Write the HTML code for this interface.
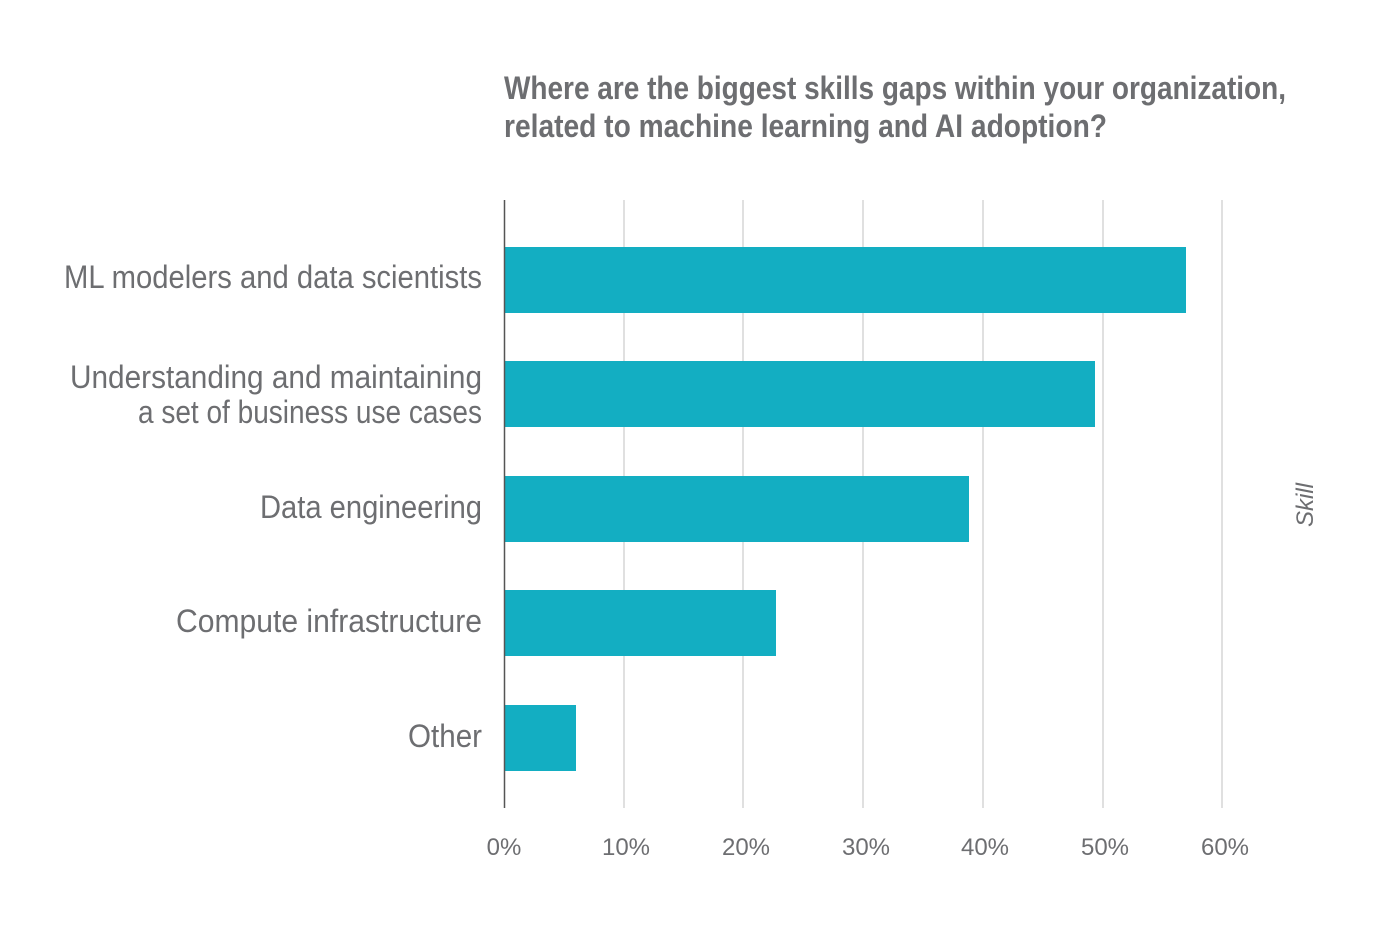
<!DOCTYPE html>
<html><head><meta charset="utf-8"><style>
html,body{margin:0;padding:0;background:#fff;}
svg{display:block;}
text{font-family:"Liberation Sans Narrow","Liberation Sans",sans-serif;}
</style></head><body>
<svg width="1400" height="950" viewBox="0 0 1400 950" xmlns="http://www.w3.org/2000/svg">
<rect width="1400" height="950" fill="#fff"/>
<g fill="#6d6e71" font-size="32" font-weight="bold">
<text x="504" y="99" textLength="782" lengthAdjust="spacingAndGlyphs">Where are the biggest skills gaps within your organization,</text>
<text x="504" y="137" textLength="603" lengthAdjust="spacingAndGlyphs">related to machine learning and AI adoption?</text>
</g>
<g stroke="#d6d6d6" stroke-width="1.5">
<line x1="624" y1="200" x2="624" y2="808"/>
<line x1="743" y1="200" x2="743" y2="808"/>
<line x1="863" y1="200" x2="863" y2="808"/>
<line x1="983" y1="200" x2="983" y2="808"/>
<line x1="1103" y1="200" x2="1103" y2="808"/>
<line x1="1222" y1="200" x2="1222" y2="808"/>
</g>
<g fill="#13aec2">
<rect x="504" y="247" width="682" height="66"/>
<rect x="504" y="361" width="591" height="66"/>
<rect x="504" y="476" width="465" height="66"/>
<rect x="504" y="590" width="272" height="66"/>
<rect x="504" y="705" width="72" height="66"/>
</g>
<line x1="504.5" y1="200" x2="504.5" y2="808" stroke="#555" stroke-width="1.5"/>
<g fill="#6d6e71" font-size="32" text-anchor="end">
<text x="482" y="288" textLength="418" lengthAdjust="spacingAndGlyphs">ML modelers and data scientists</text>
<text x="482" y="388" textLength="412" lengthAdjust="spacingAndGlyphs">Understanding and maintaining</text>
<text x="482" y="423" textLength="344" lengthAdjust="spacingAndGlyphs">a set of business use cases</text>
<text x="482" y="518" textLength="222" lengthAdjust="spacingAndGlyphs">Data engineering</text>
<text x="482" y="632" textLength="306" lengthAdjust="spacingAndGlyphs">Compute infrastructure</text>
<text x="482" y="747" textLength="74" lengthAdjust="spacingAndGlyphs">Other</text>
</g>
<g fill="#6d6e71" font-size="24" text-anchor="middle">
<text x="504" y="855">0%</text>
<text x="626" y="855">10%</text>
<text x="746" y="855">20%</text>
<text x="866" y="855">30%</text>
<text x="985" y="855">40%</text>
<text x="1105" y="855">50%</text>
<text x="1225" y="855">60%</text>
</g>
<text x="0" y="0" transform="translate(1313,505) rotate(-90)" fill="#6d6e71" font-size="24" font-style="italic" text-anchor="middle">Skill</text>
</svg>
</body></html>
